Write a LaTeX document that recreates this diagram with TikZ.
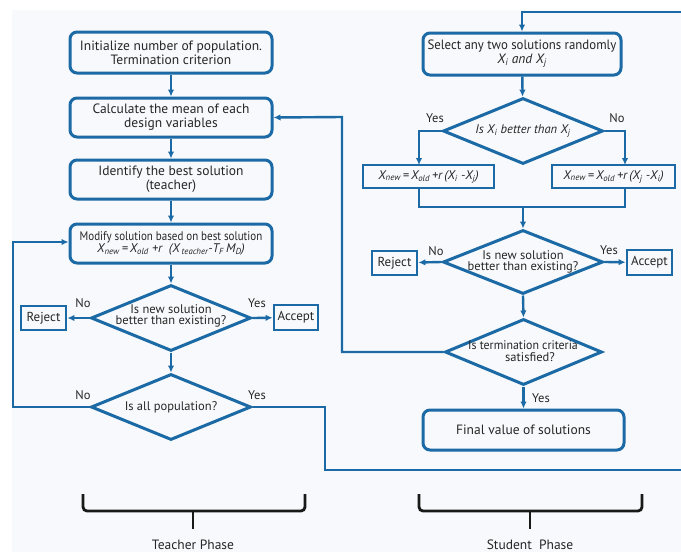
\documentclass[tikz,border=0pt]{standalone}
\usepackage{fontspec}
\setmainfont{PT Sans}
\usetikzlibrary{arrows.meta,shapes.geometric}
\definecolor{fblue}{HTML}{1B6AA5}
\definecolor{ftext}{HTML}{262626}
\definecolor{fbg}{HTML}{F7F9FC}
\newcommand{\sbx}[1]{\textsubscript{#1}}
\tikzset{
  rbox/.style={draw=fblue, line width=3pt, rounded corners=7pt, inner sep=0pt, text=ftext, align=center, font=\fontsize{13.5}{14}\selectfont},
  sbox/.style={draw=fblue, line width=2.8pt, inner sep=0pt, text=ftext, align=center, font=\fontsize{13}{14}\selectfont},
  diam/.style={draw=fblue, line width=3pt, diamond, inner sep=0pt},
  dtext/.style={text=ftext, align=center, font=\fontsize{12.5}{11.5}\selectfont},
  lbl/.style={text=ftext, font=\fontsize{12.5}{14}\selectfont},
  conn/.style={draw=fblue, line width=2.4pt},
  arr/.style={conn, -{Latex[length=7pt,width=6.5pt]}},
  brace/.style={draw=black!90, line width=2.8pt, rounded corners=4pt},
}
\begin{document}
\begin{tikzpicture}[x=1pt,y=-1pt]
\useasboundingbox (0,0) rectangle (681,552);
\fill[white] (0,0) rectangle (681,552);
\fill[fbg] (12,10) rectangle (681,552);

% Teacher phase
\node[rbox, minimum width=202pt, minimum height=41pt] (init) at (171,52.5) {Initialize number of population.\\Termination criterion};
\node[rbox, minimum width=202pt, minimum height=39pt] (calc) at (171,117.5) {Calculate the mean of each\\design variables};
\node[rbox, minimum width=202pt, minimum height=39pt] (ident) at (171,179.5) {Identify the best solution\\(teacher)};
\node[rbox, minimum width=202pt, minimum height=39pt, font=\fontsize{12.5}{12.5}\selectfont] (modify) at (171,243.5) {\scalebox{0.88}[1]{Modify solution based on best solution}\\\itshape X\sbx{new}\,=\,X\sbx{old} +r~~(X\,\sbx{teacher}-T\sbx{F}\,M\sbx{D})};
\node[diam, minimum width=160pt, minimum height=66pt] (d1) at (171,318) {};
\node[dtext] at (171,316) {Is new solution\\better than existing?};
\node[sbox, minimum width=45pt, minimum height=24pt] (rej1) at (43.5,318) {Reject};
\node[sbox, minimum width=44pt, minimum height=25pt] (acc1) at (296,317.5) {Accept};
\node[diam, minimum width=160pt, minimum height=66pt] (d2) at (171,407) {};
\node[dtext] at (171,407) {Is all population?};

\draw[arr] (init) -- (calc);
\draw[arr] (calc) -- (ident);
\draw[arr] (ident) -- (modify);
\draw[arr] (modify) -- (d1);
\draw[arr] (d1.west) -- (rej1);
\draw[arr] (d1.east) -- (acc1);
\draw[arr] (d1.south) -- (d2.north);
\draw[arr] (d2.west) -- (13,407) -- (13,242) -- (modify.west |- 0,242);
\draw[conn] (d2.east) -- (325,407) -- (325,470) -- (681,470);

\node[lbl] at (83,303) {No};
\node[lbl] at (257,303) {Yes};
\node[lbl] at (83,395) {No};
\node[lbl] at (257,395) {Yes};

% Student phase
\node[rbox, minimum width=198pt, minimum height=42pt] (sel) at (522,54) {\scalebox{0.95}[1]{Select any two solutions randomly}\\\itshape X\sbx{i} and X\sbx{j}};
\node[diam, minimum width=160pt, minimum height=66pt] (d3) at (523,131) {};
\node[dtext] at (523,131) {\itshape Is X\sbx{i} better than X\sbx{j}};
\node[sbox, minimum width=131pt, minimum height=23pt, font=\fontsize{12.5}{13}\selectfont\itshape] (fl) at (428.5,176.5) {X\sbx{new}\,=\,X\sbx{old}\,+r\,(X\sbx{i} -X\sbx{j})};
\node[sbox, minimum width=123pt, minimum height=23pt, font=\fontsize{12.5}{13}\selectfont\itshape] (fr) at (613.5,176.5) {X\sbx{new}\,=\,X\sbx{old}\,+r\,(X\sbx{j} -X\sbx{i})};
\node[diam, minimum width=160pt, minimum height=64pt] (d4) at (523,262) {};
\node[dtext] at (523,262) {Is new solution\\better than existing?};
\node[sbox, minimum width=45pt, minimum height=24pt] (rej2) at (394.5,263) {Reject};
\node[sbox, minimum width=45pt, minimum height=25pt] (acc2) at (649.5,262.5) {Accept};
\node[diam, minimum width=157pt, minimum height=66pt] (d5) at (523.5,352) {};
\node[dtext] at (523,351) {\scalebox{0.95}[1]{Is termination criteria}\\\hspace*{14pt}satisfied?};
\node[rbox, minimum width=201pt, minimum height=40pt] (final) at (523.5,430) {Final value of solutions};

\coordinate (tl) at (681,12);
\coordinate (tr) at (522,12);
\draw[arr] (tl) -- (tr) -- (sel.north);
\draw[arr] (sel) -- (d3);
\draw[arr] (d3.west) -- (419,131) -- (419,165);
\draw[arr] (d3.east) -- (625,131) -- (625,165);
\draw[conn] (419,188) -- (419,207) -- (625,207) -- (625,188);
\draw[arr] (523,207) -- (d4.north);
\draw[arr] (d4.west) -- (rej2);
\draw[arr] (d4.east) -- (acc2);
\draw[arr] (d4.south) -- (d5.north);
\draw[arr] (d5.west) -- (342,352) -- (342,117) -- (calc.east);
\draw[arr] (d5.south) -- (final);

\node[lbl] at (435,118) {Yes};
\node[lbl] at (617,118) {No};
\node[lbl] at (436,251) {No};
\node[lbl] at (609,250) {Yes};
\node[lbl] at (541,398) {Yes};

% Braces
\draw[brace] (83,494) -- (83,511) -- (305,511) -- (305,494);
\draw[line width=2.8pt, black!90] (193,511) -- (193,529);
\node[lbl, font=\fontsize{13.5}{14}\selectfont] (tp) at (193,545) {Teacher Phase};
\draw[brace] (419,494) -- (419,511) -- (642,511) -- (642,494);
\draw[line width=2.8pt, black!90] (530,511) -- (530,529);
\node[lbl, font=\fontsize{13.5}{14}\selectfont] (sp) at (530,545) {Student~~Phase};
\end{tikzpicture}
\end{document}
